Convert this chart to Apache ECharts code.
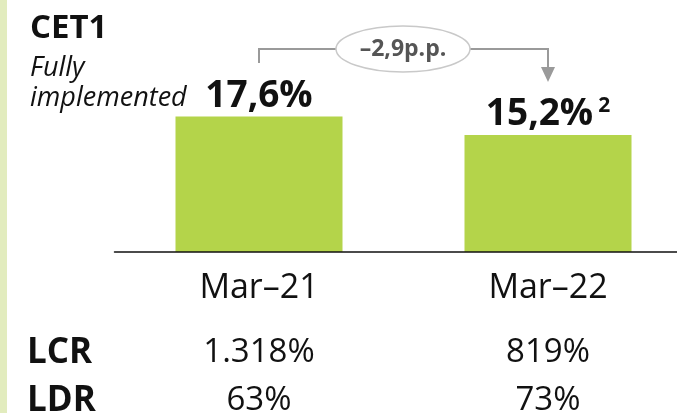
<!DOCTYPE html>
<html>
<head>
<meta charset="utf-8">
<script src="https://cdn.jsdelivr.net/npm/echarts@6/dist/echarts.min.js"></script>
<style>
  html, body { margin: 0; padding: 0; background: #fff; }
  #main { width: 677px; height: 413px; }
</style>
</head>
<body>
<div id="main"></div>
<script>
// chart data
var categories = ['Mar–21', 'Mar–22'];
var cet1Values = [17.6, 15.2];
var cet1Notes = ['', '2'];
var changeText = '–2,9p.p.';
var rowNames = ['LCR', 'LDR'];
var lcrValues = ['1.318%', '819%'];
var ldrValues = ['63%', '73%'];

var FONT = '"Open Sans", sans-serif';
var INK = '#111';
var GREEN = '#b4d44a';

var myChart = echarts.init(document.getElementById('main'));

function fmt(v) {
    return v.toFixed(1).replace('.', ',') + '%';
}

myChart.setOption({
    backgroundColor: '#fff',
    animation: false,
    grid: { left: 114.5, width: 578, top: 98, bottom: 161, outerBoundsMode: 'none' },
    xAxis: {
        type: 'category',
        data: categories,
        z: 5,
        axisLine: { lineStyle: { color: INK, width: 1.5 } },
        axisTick: { show: false },
        axisLabel: { color: INK, fontFamily: FONT, fontSize: 34, margin: 19 }
    },
    yAxis: {
        type: 'value',
        show: false,
        min: 0,
        max: 20,
        splitLine: { show: false }
    },
    series: [{
        type: 'bar',
        data: cet1Values,
        barWidth: 167,
        itemStyle: { color: GREEN },
        label: {
            show: true,
            position: 'top',
            distance: 2,
            formatter: function (p) {
                var s = '{v|' + fmt(p.value) + '}';
                if (cet1Notes[p.dataIndex]) s += '{s|' + cet1Notes[p.dataIndex] + '}';
                return s;
            },
            rich: {
                v: { fontFamily: FONT, fontWeight: 'bold', fontSize: 37, color: INK },
                s: { fontFamily: FONT, fontWeight: 'bold', fontSize: 21, color: INK,
                     verticalAlign: 'top', padding: [0, 0, 0, 5] }
            }
        }
    }]
});

// annotation and side texts placed from the axis positions
var x1 = myChart.convertToPixel({ xAxisIndex: 0 }, categories[0]);
var x2 = myChart.convertToPixel({ xAxisIndex: 0 }, categories[1]);
var ex = 403, ey = 49, rx = 67, ry = 23;
var lineCol = '#9a9a9a';

var graphics = [
    { type: 'rect', shape: { x: 0, y: 0, width: 7, height: 413 }, style: { fill: '#e2ecbe' } },
    { type: 'text', x: 30, y: 12, style: { text: 'CET1', font: 'bold 33px ' + FONT, fill: INK } },
    { type: 'text', x: 30, y: 55, style: { text: 'Fully', font: 'italic 27px ' + FONT, fill: INK } },
    { type: 'text', x: 30, y: 85, style: { text: 'implemented', font: 'italic 27px ' + FONT, fill: INK } },
    { type: 'polyline', shape: { points: [[x1, 63], [x1, ey], [ex - rx, ey]] },
      style: { stroke: lineCol, lineWidth: 2, fill: null } },
    { type: 'polyline', shape: { points: [[ex + rx, ey], [x2, ey], [x2, 70]] },
      style: { stroke: lineCol, lineWidth: 2, fill: null } },
    { type: 'polygon', shape: { points: [[x2 - 7, 67], [x2 + 7, 67], [x2, 82]] },
      style: { fill: lineCol } },
    { type: 'ellipse', shape: { cx: ex, cy: ey, rx: rx, ry: ry },
      style: { fill: '#fff', stroke: '#c9c9c9', lineWidth: 1.5 } },
    { type: 'text', x: ex, y: ey, style: { text: changeText, font: 'bold 23px ' + FONT, fill: '#555',
      align: 'center', verticalAlign: 'middle' } }
];

var rowY = [353, 401];
var rowVals = [lcrValues, ldrValues];
rowNames.forEach(function (name, r) {
    graphics.push({ type: 'text', x: 27, y: rowY[r], style: { text: name, font: 'bold 35px ' + FONT,
        fill: INK, verticalAlign: 'middle' } });
    [x1, x2].forEach(function (x, c) {
        graphics.push({ type: 'text', x: x, y: rowY[r], style: { text: rowVals[r][c],
            font: '33px ' + FONT, fill: INK, align: 'center', verticalAlign: 'middle' } });
    });
});

myChart.setOption({ graphic: graphics });
</script>
</body>
</html>
